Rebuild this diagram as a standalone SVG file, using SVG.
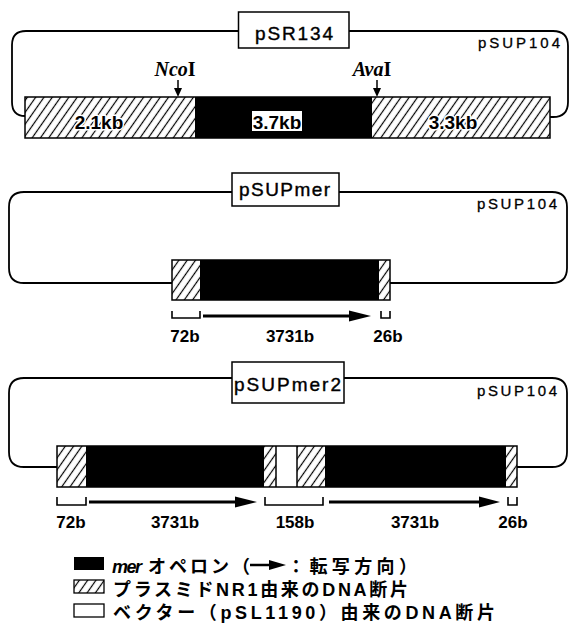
<svg xmlns="http://www.w3.org/2000/svg" width="571" height="629" viewBox="0 0 571 629">
<style>
.loop{fill:none;stroke:#000;stroke-width:1.8}
.box{fill:#fff;stroke:#000;stroke-width:1.5}
.seg{stroke:#000;stroke-width:1.5}
.blk{fill:#000}
.hat{fill:url(#hatch)}
.wht{fill:#fff}
.title{font-family:"Liberation Sans",Arial,sans-serif;font-size:19px;fill:#000;stroke:#000;stroke-width:0.4}
.vec{font-family:"Liberation Sans",Arial,sans-serif;font-size:15px;fill:#000;stroke:#000;stroke-width:0.3}
.kb{font-family:"Liberation Sans",Arial,sans-serif;font-size:19px;font-weight:bold;fill:#000;text-anchor:middle}
.halo{paint-order:stroke;stroke:#fff;stroke-width:3px;stroke-linejoin:round}
.len{font-family:"Liberation Sans",Arial,sans-serif;font-size:17px;font-weight:bold;fill:#000;text-anchor:middle}
.site{font-family:"Liberation Serif","Times New Roman",serif;font-size:20px;font-weight:bold;fill:#000;text-anchor:middle}
.brk{fill:none;stroke:#000;stroke-width:1.6}
.arr{stroke:#000;stroke-width:3}
.leg{font-family:"Liberation Sans","Noto Sans CJK JP",sans-serif;font-size:18px;font-weight:bold;fill:#000}
</style>
<defs>
<pattern id="hatch" patternUnits="userSpaceOnUse" width="6.8" height="6.8" patternTransform="rotate(35)">
<line x1="3.4" y1="0" x2="3.4" y2="6.8" stroke="#000" stroke-width="1.2"/>
</pattern>
</defs>

<g id="connectors">
<path class="loop" d="M25,116 Q12,116 12,102 V45 Q12,31 26,31 H553 Q568,31 568,46 V102 Q568,117 553,117 H550"/>
<path class="loop" d="M172,283 H24 Q9,283 9,268 V207 Q9,192 24,192 H552 Q567,192 567,207 V268 Q567,283 552,283 H390"/>
<path class="loop" d="M57,467 H24 Q9,467 9,452 V393 Q9,378 24,378 H552 Q567,378 567,393 V452 Q567,467 552,467 H517"/>
</g>

<g id="pSR134">
<rect class="box" x="238.5" y="12" width="110.5" height="36"/>
<text class="title" x="255" y="40" textLength="78" lengthAdjust="spacing">pSR134</text>
<text class="vec" x="478" y="48" textLength="82" lengthAdjust="spacing">pSUP104</text>
<rect class="hat" x="25" y="97" width="170" height="41"/>
<rect class="blk" x="195" y="97" width="177" height="41"/>
<rect class="hat" x="372" y="97" width="178" height="41"/>
<rect fill="none" class="seg" x="25" y="97" width="525" height="41"/>
<text class="kb halo" x="99" y="129">2.1kb</text>
<rect class="wht" x="252" y="111" width="50" height="20"/>
<text class="kb" x="277" y="129">3.7kb</text>
<text class="kb halo" x="453" y="129">3.3kb</text>
<text class="site" x="175" y="76"><tspan font-style="italic">Nco</tspan>I</text>
<text class="site" x="372" y="76"><tspan font-style="italic">Ava</tspan>I</text>
<line x1="178" y1="80" x2="178" y2="89" stroke="#000" stroke-width="1.5"/>
<path d="M174,88 L182,88 L178,97 Z" fill="#000"/>
<line x1="377" y1="80" x2="377" y2="89" stroke="#000" stroke-width="1.5"/>
<path d="M373,88 L381,88 L377,97 Z" fill="#000"/>
</g>

<g id="pSUPmer">
<rect class="box" x="232" y="173" width="107" height="33"/>
<text class="title" x="239" y="196" textLength="91" lengthAdjust="spacing">pSUPmer</text>
<text class="vec" x="477" y="209" textLength="80" lengthAdjust="spacing">pSUP104</text>
<rect class="hat" x="172" y="260" width="28" height="40"/>
<rect class="blk" x="200" y="260" width="179" height="40"/>
<rect class="hat" x="379" y="260" width="11" height="40"/>
<rect fill="none" class="seg" x="172" y="260" width="218" height="40"/>
<path class="brk" d="M172,311 V318 H200 V311"/>
<line class="arr" x1="203" y1="316" x2="350" y2="316"/>
<path d="M349,310.5 L371,316 L349,321.5 Z" fill="#000"/>
<path class="brk" d="M381,311 V318 H390 V311"/>
<text class="len" x="185" y="342">72b</text>
<text class="len" x="290" y="342">3731b</text>
<text class="len" x="388" y="342">26b</text>
</g>

<g id="pSUPmer2">
<rect class="box" x="232" y="362" width="112" height="41"/>
<text class="title" x="234" y="391" textLength="107" lengthAdjust="spacing">pSUPmer2</text>
<text class="vec" x="477" y="396" textLength="80" lengthAdjust="spacing">pSUP104</text>
<rect class="hat" x="57" y="446" width="29" height="41"/>
<rect class="blk" x="86" y="446" width="178" height="41"/>
<rect class="hat" x="264" y="446" width="12" height="41"/>
<rect class="wht" x="276" y="446" width="21" height="41"/>
<rect class="hat" x="297" y="446" width="28" height="41"/>
<rect class="blk" x="325" y="446" width="181" height="41"/>
<rect class="hat" x="506" y="446" width="11" height="41"/>
<rect fill="none" class="seg" x="57" y="446" width="460" height="41"/>
<line class="seg" x1="276" y1="446" x2="276" y2="487"/>
<line class="seg" x1="297" y1="446" x2="297" y2="487"/>
<path class="brk" d="M57,497 V505 H86 V497"/>
<line class="arr" x1="89" y1="502" x2="236" y2="502"/>
<path d="M235,496.5 L257,502 L235,507.5 Z" fill="#000"/>
<path class="brk" d="M265,497 V505 H323 V497"/>
<line class="arr" x1="329" y1="502" x2="480" y2="502"/>
<path d="M479,496.5 L500,502 L479,507.5 Z" fill="#000"/>
<path class="brk" d="M508,497 V505 H517 V497"/>
<text class="len" x="71" y="528">72b</text>
<text class="len" x="175" y="528">3731b</text>
<text class="len" x="295" y="528">158b</text>
<text class="len" x="415" y="528">3731b</text>
<text class="len" x="513" y="528">26b</text>
</g>

<g id="legend">
<rect class="blk" x="74" y="557" width="30" height="13"/>
<text class="leg" x="112" y="573" font-style="italic" font-weight="normal" textLength="30" lengthAdjust="spacing">mer</text>
<text class="leg" x="148" y="573" textLength="102" lengthAdjust="spacing">オペロン（</text>
<line x1="250" y1="565" x2="271" y2="565" stroke="#000" stroke-width="2.5"/>
<path d="M269,560 L286,565 L269,570 Z" fill="#000"/>
<text class="leg" x="287" y="573" textLength="130" lengthAdjust="spacing">：転写方向）</text>
<rect class="hat" x="74" y="580" width="30" height="13"/>
<rect fill="none" stroke="#000" stroke-width="1.3" x="74" y="580" width="30" height="13"/>
<text class="leg" x="113" y="596" textLength="295" lengthAdjust="spacing">プラスミドNR1由来のDNA断片</text>
<rect fill="#fff" stroke="#000" stroke-width="1.3" x="74" y="604" width="30" height="13"/>
<text class="leg" x="113" y="619" textLength="382" lengthAdjust="spacing">ベクター（pSL1190）由来のDNA断片</text>
</g>
</svg>
